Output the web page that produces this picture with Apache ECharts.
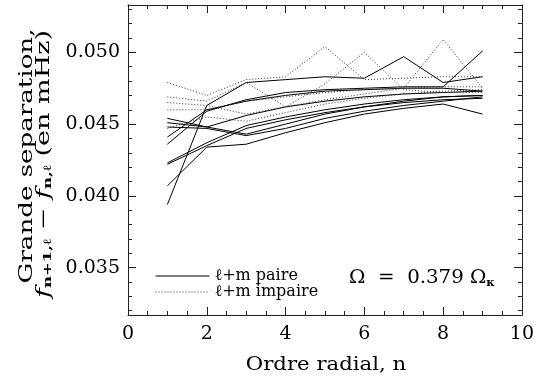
<!DOCTYPE html>
<html>
<head>
<meta charset="utf-8">
<script src="https://cdn.jsdelivr.net/npm/echarts@6/dist/echarts.min.js"></script>
<style>
  html, body { margin: 0; padding: 0; background: #fff; }
  #chart { width: 537px; height: 379px; }
</style>
</head>
<body>
<div id="chart"></div>
<script>
// ordre radial n
var radialOrder = [1, 2, 3, 4, 5, 6, 7, 8, 9];

// grande separation (mHz), l+m paire (trait plein)
var paire1 = [0.0394, 0.0463, 0.0479, 0.0481, 0.0483, 0.0482, 0.0497, 0.0479, 0.0483];
var paire2 = [0.0436, 0.0459, 0.0467, 0.0472, 0.0474, 0.0475, 0.0476, 0.0476, 0.0501];
var paire3 = [0.0441, 0.0460, 0.0466, 0.0470, 0.0473, 0.0474, 0.0475, 0.0475, 0.0473];
var paire4 = [0.0454, 0.0448, 0.0456, 0.0462, 0.0466, 0.0469, 0.0471, 0.0472, 0.0473];
var paire5 = [0.0451, 0.0448, 0.0443, 0.0450, 0.0457, 0.0462, 0.0466, 0.0469, 0.0470];
var paire6 = [0.0448, 0.0447, 0.0442, 0.0447, 0.0454, 0.0459, 0.0463, 0.0466, 0.0469];
var paire7 = [0.0423, 0.0437, 0.0449, 0.0455, 0.0460, 0.0464, 0.0467, 0.0469, 0.0470];
var paire8 = [0.0422, 0.0435, 0.0447, 0.0453, 0.0458, 0.0462, 0.0465, 0.0467, 0.0468];
var paire9 = [0.0407, 0.0434, 0.0436, 0.0444, 0.0451, 0.0457, 0.0461, 0.0464, 0.0457];

// l+m impaire (pointille)
var impaire1 = [0.0479, 0.0470, 0.0481, 0.0483, 0.0504, 0.0481, 0.0482, 0.0483, 0.0483];
var impaire2 = [0.0469, 0.0466, 0.0479, 0.0462, 0.0478, 0.0500, 0.0474, 0.0472, 0.0472];
var impaire3 = [0.0465, 0.0463, 0.0457, 0.0462, 0.0467, 0.0471, 0.0475, 0.0509, 0.0475];
var impaire4 = [0.0460, 0.0460, 0.0466, 0.0469, 0.0472, 0.0474, 0.0475, 0.0476, 0.0476];
var impaire5 = [0.0447, 0.0455, 0.0452, 0.0458, 0.0464, 0.0468, 0.0471, 0.0473, 0.0474];

var paireSeries = [paire1, paire2, paire3, paire4, paire5, paire6, paire7, paire8, paire9];
var impaireSeries = [impaire1, impaire2, impaire3, impaire4, impaire5];

// graduations de l'axe y
var yMajorTicks = [0.035, 0.040, 0.045, 0.050];
var yMinorTicks = [0.032, 0.033, 0.034, 0.035, 0.036, 0.037, 0.038, 0.039, 0.040, 0.041, 0.042,
                   0.043, 0.044, 0.045, 0.046, 0.047, 0.048, 0.049, 0.050, 0.051, 0.052, 0.053];
var yMin = 0.0317, yMax = 0.0533;

var FONT = '"DejaVu Serif", serif';
var NAME_EVEN = 'ℓ+m paire', NAME_ODD = 'ℓ+m impaire';

function toPoints(arr) {
    return radialOrder.map(function (n, i) { return [n, arr[i]]; });
}

var series = [];
paireSeries.forEach(function (arr) {
    series.push({
        name: NAME_EVEN, type: 'line', data: toPoints(arr),
        symbol: 'none', silent: true,
        itemStyle: { color: '#000' },
        lineStyle: { color: '#000', width: 1, type: 'solid' }
    });
});
impaireSeries.forEach(function (arr) {
    series.push({
        name: NAME_ODD, type: 'line', data: toPoints(arr),
        symbol: 'none', silent: true,
        itemStyle: { color: '#000' },
        lineStyle: { color: '#333', width: 1, type: [1, 2] }
    });
});

function xAx(pos, labels) {
    return {
        type: 'value', position: pos, min: 0, max: 10, interval: 2,
        axisLine: { show: true, lineStyle: { color: '#222', width: 1 } },
        axisTick: { show: true, inside: true, length: 8, lineStyle: { color: '#222' } },
        minorTick: { show: true, splitNumber: 4, length: 4, lineStyle: { color: '#222' } },
        axisLabel: { show: labels, margin: 10, color: '#000', fontFamily: FONT, fontSize: 19 },
        splitLine: { show: false }
    };
}
function yAx(pos, ticks, len, labels) {
    return {
        type: 'value', position: pos, min: yMin, max: yMax,
        axisLine: { show: true, lineStyle: { color: '#222', width: 1 } },
        axisTick: { show: true, inside: true, length: len, customValues: ticks, lineStyle: { color: '#222' } },
        axisLabel: {
            show: labels, margin: 8, color: '#000', fontFamily: FONT, fontSize: 19,
            customValues: yMajorTicks,
            formatter: function (v) { return v.toFixed(3); }
        },
        splitLine: { show: false }
    };
}

var chart = echarts.init(document.getElementById('chart'));
chart.setOption({
    animation: false,
    backgroundColor: '#fff',
    grid: { left: 128, right: 12, top: 5, bottom: 64 },
    xAxis: [xAx('bottom', true), xAx('top', false)],
    yAxis: [
        yAx('left', yMajorTicks, 8, true),
        yAx('left', yMinorTicks, 4, false),
        yAx('right', yMajorTicks, 8, false),
        yAx('right', yMinorTicks, 4, false)
    ],
    legend: {
        data: [NAME_EVEN, NAME_ODD],
        orient: 'vertical', left: 150, top: 263,
        itemWidth: 54, itemHeight: 14, itemGap: 0,
        itemStyle: { opacity: 0 },
        lineStyle: { width: 1 },
        textStyle: { fontFamily: FONT, fontSize: 16, lineHeight: 14, color: '#000' }
    },
    series: series,
    graphic: [
        {
            type: 'text', x: 27, y: 156, rotation: Math.PI / 2, scaleX: 1.45,
            style: { text: 'Grande separation,', font: '18px ' + FONT, fill: '#000', align: 'center', verticalAlign: 'middle' }
        },
        {
            type: 'text', x: 44, y: 164, rotation: Math.PI / 2, scaleX: 1.5,
            style: {
                text: '{i|f}{s|n+1,ℓ}{a| − }{i|f}{s|n,ℓ}{a| (en mHz)}',
                align: 'center', verticalAlign: 'middle', fill: '#000',
                rich: {
                    i: { fontFamily: FONT, fontSize: 18, fontStyle: 'italic', lineHeight: 20 },
                    a: { fontFamily: FONT, fontSize: 18, lineHeight: 20 },
                    s: { fontFamily: FONT, fontSize: 11, fontWeight: 'bold', lineHeight: 12, verticalAlign: 'bottom' }
                }
            }
        },
        {
            type: 'text', x: 326, y: 365, scaleX: 1.18,
            style: { text: 'Ordre radial, n', font: '18px ' + FONT, fill: '#000', align: 'center', verticalAlign: 'middle' }
        },
        {
            type: 'text', x: 422, y: 278, scaleX: 1.04,
            style: {
                text: '{a|Ω  =  0.379 Ω}{k|κ}',
                align: 'center', verticalAlign: 'middle', fill: '#000',
                rich: {
                    a: { fontFamily: FONT, fontSize: 19, lineHeight: 22 },
                    k: { fontFamily: FONT, fontSize: 11, fontWeight: 'bold', lineHeight: 14, verticalAlign: 'bottom' }
                }
            }
        }
    ]
});
</script>
</body>
</html>
